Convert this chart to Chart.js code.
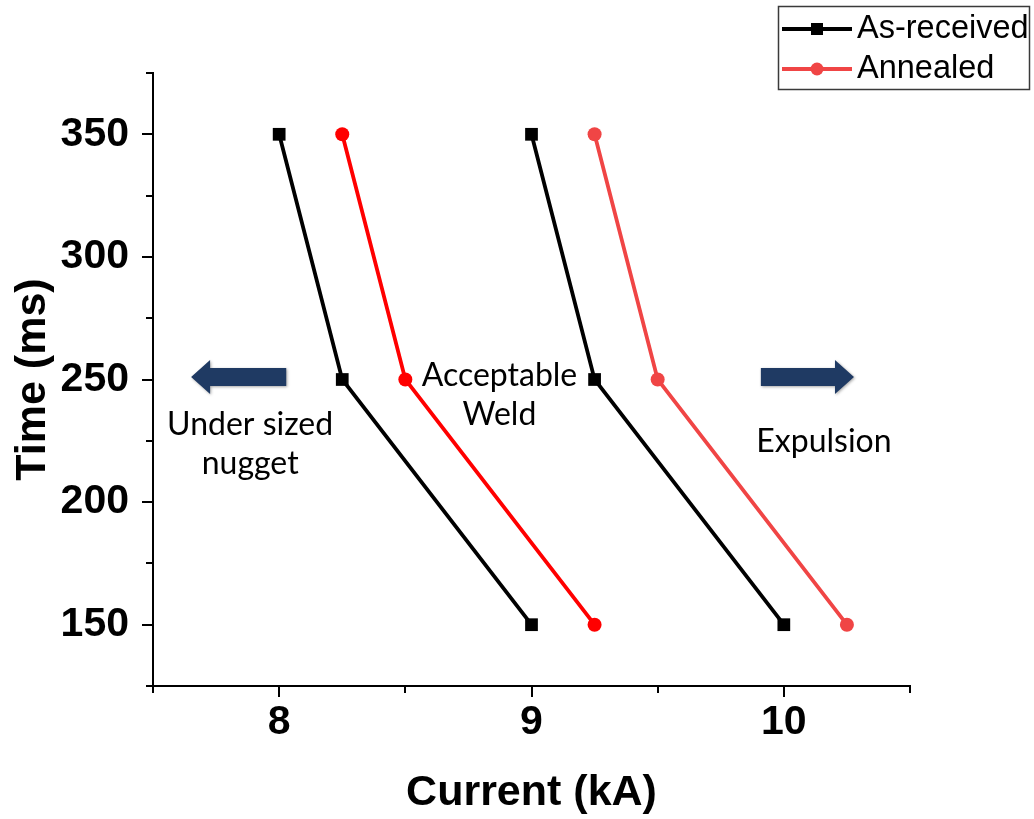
<!DOCTYPE html>
<html>
<head>
<meta charset="utf-8">
<script src="https://cdn.jsdelivr.net/npm/chart.js@4"></script>
<style>
  body { margin: 0; background: #fff; }
  canvas { display: block; }
</style>
</head>
<body>
<canvas id="myChart" width="1034" height="819"></canvas>
<script>
// welding lobe boundaries: current (kA) needed at each weld time (ms)
const timeMs = [350, 250, 150];
const asReceivedLow = [8, 8.25, 9];
const annealedLow = [8.25, 8.5, 9.25];
const asReceivedHigh = [9, 9.25, 10];
const annealedHigh = [9.25, 9.5, 10.25];

const xTickLabels = [8, 9, 10];
const yTickLabels = [150, 200, 250, 300, 350];

const BLACK = "#000000";
const RED = "#ff0000";
const LIGHT_RED = "#f04545";

// region notes, placed in data units
const notes = [
  { lines: ["Under sized", "nugget"], x: 7.885, y: 231.5 },
  { lines: ["Acceptable", "Weld"], x: 8.873, y: 251.5 },
  { lines: ["Expulsion"], x: 10.159, y: 224.5 },
];
const arrows = [
  { from: 8.028, to: 7.651, y: 251 },
  { from: 9.909, to: 10.278, y: 251 },
];

const toPoints = (xs) => xs.map((x, i) => ({ x: x, y: timeMs[i] }));

const series = (label, xs, color, marker) => ({
  label: label,
  data: toPoints(xs),
  borderColor: color,
  backgroundColor: color,
  borderWidth: 3.8,
  pointStyle: marker,
  pointRadius: marker === "rect" ? 9 : 7,
  pointBorderWidth: 0,
  showLine: true,
  tension: 0,
});

const datasets = [
  series("As-received", asReceivedLow, BLACK, "rect"),
  series("Annealed", annealedLow, RED, "circle"),
  series("As-received", asReceivedHigh, BLACK, "rect"),
  series("Annealed", annealedHigh, LIGHT_RED, "circle"),
];

// ticks with long marks on labelled values, short ones in between
const tickMarks = {
  id: "tickMarks",
  afterDraw(chart) {
    const ctx = chart.ctx;
    const xs = chart.scales.x;
    const ys = chart.scales.y;
    ctx.save();
    ctx.strokeStyle = "#000";
    ctx.lineWidth = 2;
    ys.ticks.forEach((t) => {
      const py = Math.round(ys.getPixelForValue(t.value));
      const len = yTickLabels.includes(t.value) ? 11 : 7;
      ctx.beginPath();
      ctx.moveTo(ys.right, py);
      ctx.lineTo(ys.right - len, py);
      ctx.stroke();
    });
    xs.ticks.forEach((t) => {
      const px = Math.round(xs.getPixelForValue(t.value));
      const len = xTickLabels.includes(t.value) ? 11 : 7;
      ctx.beginPath();
      ctx.moveTo(px, xs.top);
      ctx.lineTo(px, xs.top + len);
      ctx.stroke();
    });
    ctx.restore();
  },
};

const notesAndArrows = {
  id: "notesAndArrows",
  afterDatasetsDraw(chart) {
    const ctx = chart.ctx;
    const xs = chart.scales.x;
    const ys = chart.scales.y;
    ctx.save();
    ctx.fillStyle = "#1f3a63";
    ctx.shadowColor = "rgba(0,0,0,0.35)";
    ctx.shadowBlur = 3;
    ctx.shadowOffsetX = 1;
    ctx.shadowOffsetY = 1;
    arrows.forEach((a) => {
      const x0 = xs.getPixelForValue(a.from);
      const x1 = xs.getPixelForValue(a.to);
      const cy = ys.getPixelForValue(a.y);
      const dir = x1 > x0 ? 1 : -1;
      const head = 19;
      const hx = x1 - dir * head;
      ctx.beginPath();
      ctx.moveTo(x0, cy - 9);
      ctx.lineTo(hx, cy - 9);
      ctx.lineTo(hx, cy - 17);
      ctx.lineTo(x1, cy);
      ctx.lineTo(hx, cy + 17);
      ctx.lineTo(hx, cy + 9);
      ctx.lineTo(x0, cy + 9);
      ctx.closePath();
      ctx.fill();
    });
    ctx.restore();

    ctx.save();
    ctx.fillStyle = "#000";
    ctx.font = "32px Lato, 'Open Sans', sans-serif";
    ctx.textAlign = "center";
    ctx.textBaseline = "middle";
    notes.forEach((n) => {
      const px = xs.getPixelForValue(n.x);
      const py = ys.getPixelForValue(n.y);
      n.lines.forEach((line, i) => ctx.fillText(line, px, py + i * 39));
    });
    ctx.restore();
  },
};

// boxed legend in the top-right corner, one entry per label
const boxedLegend = {
  id: "boxedLegend",
  afterDraw(chart) {
    const ctx = chart.ctx;
    const entries = [chart.data.datasets[0], chart.data.datasets[3]];
    ctx.save();
    ctx.strokeStyle = "#3a3a3a";
    ctx.lineWidth = 1.5;
    ctx.strokeRect(778.5, 6.5, 251, 83);
    ctx.font = "32.5px 'Liberation Sans', Arial, sans-serif";
    ctx.textBaseline = "middle";
    entries.forEach((ds, i) => {
      const y = 29 + i * 40;
      ctx.strokeStyle = ds.borderColor;
      ctx.fillStyle = ds.backgroundColor;
      ctx.lineWidth = 4;
      ctx.beginPath();
      ctx.moveTo(782, y);
      ctx.lineTo(852, y);
      ctx.stroke();
      if (ds.pointStyle === "rect") {
        ctx.fillRect(811, y - 6, 12, 12);
      } else {
        ctx.beginPath();
        ctx.arc(817, y, 6.5, 0, Math.PI * 2);
        ctx.fill();
      }
      ctx.fillStyle = "#000";
      ctx.fillText(ds.label, 857, y);
    });
    ctx.restore();
  },
};

const boldFont = (size) => ({
  family: "'Liberation Sans', Arial, sans-serif",
  size: size,
  weight: "bold",
});

const config = {
  type: "line",
  data: { datasets },
  options: {
    responsive: false,
    animation: false,
    layout: { padding: { top: 73, right: 124, left: 0, bottom: 0 } },
    plugins: {
      legend: { display: false },
      tooltip: { enabled: false },
    },
    scales: {
      x: {
        type: "linear",
        min: 7.5,
        max: 10.5,
        afterFit: (scale) => { scale.height = 133; },
        grid: { display: true, drawOnChartArea: false, drawTicks: false },
        border: { color: "#000", width: 2 },
        ticks: {
          stepSize: 0.5,
          padding: 12,
          color: "#000",
          font: boldFont(41),
          maxRotation: 0,
          callback: (v) => (xTickLabels.includes(v) ? String(v) : ""),
        },
        title: {
          display: true,
          text: "Current (kA)",
          color: "#000",
          font: boldFont(43),
          padding: { top: 0, bottom: 0 },
        },
      },
      y: {
        type: "linear",
        min: 125,
        max: 375,
        afterFit: (scale) => { scale.width = 153; },
        grid: { display: true, drawOnChartArea: false, drawTicks: false },
        border: { color: "#000", width: 2 },
        ticks: {
          stepSize: 25,
          padding: 24,
          color: "#000",
          font: boldFont(41),
          callback: (v) => (yTickLabels.includes(v) ? String(v) : ""),
        },
        title: {
          display: true,
          text: "Time (ms)",
          color: "#000",
          font: boldFont(43),
          padding: { top: 7, bottom: 0 },
        },
      },
    },
  },
  plugins: [tickMarks, notesAndArrows, boxedLegend],
};

const chart = new Chart(document.getElementById("myChart"), config);
</script>
</body>
</html>
